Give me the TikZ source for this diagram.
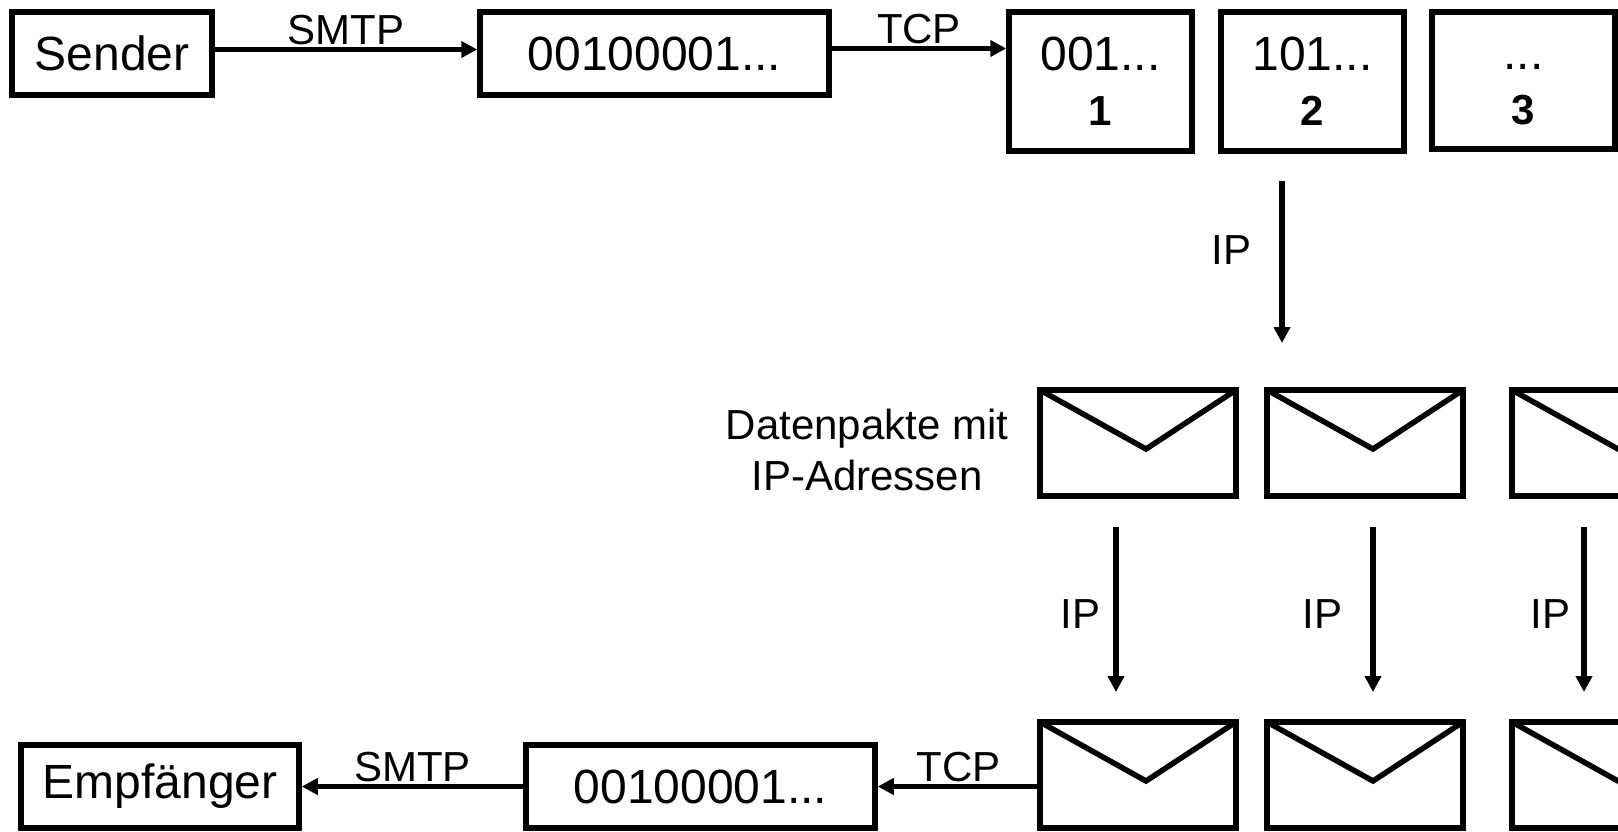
\documentclass[tikz,border=0pt]{standalone}
\usepackage{fontspec}
\setmainfont{Liberation Sans}
\usetikzlibrary{arrows.meta}

\begin{document}
\begin{tikzpicture}[x=1pt,y=-1pt,line width=5.5pt,>={Triangle[length=16pt,width=16pt]},
    box/.style={draw,minimum width=#1,minimum height=83pt,inner sep=0pt,font=\fontsize{48}{58}\selectfont},
    seg/.style={draw,minimum width=183pt,minimum height=139pt,inner sep=0pt,align=center,font=\fontsize{48}{55}\selectfont},
    env/.style={draw,minimum width=196pt,minimum height=106pt,inner sep=0pt,outer sep=0pt},
    lbl/.style={font=\fontsize{42}{48}\selectfont,inner sep=2pt}]
    \useasboundingbox (0,0) rectangle (1618,831);
    \clip (0,0) rectangle (1618,831);
    \node[box=200pt] (snd) at (112,53.5) {Sender};
    \node[box=349pt] (bits) at (654.5,53.5) {00100001...};
    \node[seg] (p1) at (1100.5,81.5) {001...\\\textbf{\fontsize{42}{55}\selectfont 1}};
    \node[seg] (p2) at (1312.5,81.5) {101...\\\textbf{\fontsize{42}{55}\selectfont 2}};
    \node[seg,minimum height=137pt] (p3) at (1523.5,80.5) {\vphantom{0}...\\\textbf{\fontsize{42}{55}\selectfont 3}};
    \node[env] (e1) at (1138,443) {};
    \node[env] (e2) at (1365,443) {};
    \node[env] (e3) at (1610,443) {};
    \node[align=center,font=\fontsize{42}{51}\selectfont] (dp) at (867,450) {Datenpakte mit\\IP-Adressen};
    \node[env] (r1) at (1138,775) {};
    \node[env] (r2) at (1365,775) {};
    \node[env] (r3) at (1610,775) {};
    \node[box=278pt] (emp) at (160,786.5) {Empfänger};
    \node[box=349pt] (rbits) at (700.5,786.5) {00100001...};
    \foreach \e in {e1,e2,e3,r1,r2,r3}
      \draw (\e.north west) -- ++(106,59) -- (\e.north east);
    \draw[->] ([yshift=4pt]snd.east) -- node[lbl,above] {SMTP} ([yshift=4pt]snd.east -| bits.west);
    \draw[->] ([yshift=5pt]bits.east) -- node[lbl,above] {TCP} ([yshift=5pt]bits.east -| p1.west);
    \draw[->] ([xshift=-30.5pt,yshift=-27pt]p2.south) -- node[lbl,left=26pt,pos=0.43] {IP} ([xshift=-83pt,yshift=47pt]e2.north);
    \draw[->] ([xshift=-22pt,yshift=-31pt]e1.south) -- node[lbl,left=11pt,pos=0.53] {IP} ([xshift=-22pt,yshift=30pt]r1.north);
    \draw[->] ([xshift=8pt,yshift=-31pt]e2.south) -- node[lbl,left=26pt,pos=0.53] {IP} ([xshift=8pt,yshift=30pt]r2.north);
    \draw[->] ([xshift=-26pt,yshift=-31pt]e3.south) -- node[lbl,left=9pt,pos=0.53] {IP} ([xshift=-26pt,yshift=30pt]r3.north);
    \draw[->] (r1.west |- rbits.east) -- node[lbl,above] {TCP} (rbits.east);
    \draw[->] (rbits) -- node[lbl,above] {SMTP} (emp);
  \end{tikzpicture}
\end{document}
